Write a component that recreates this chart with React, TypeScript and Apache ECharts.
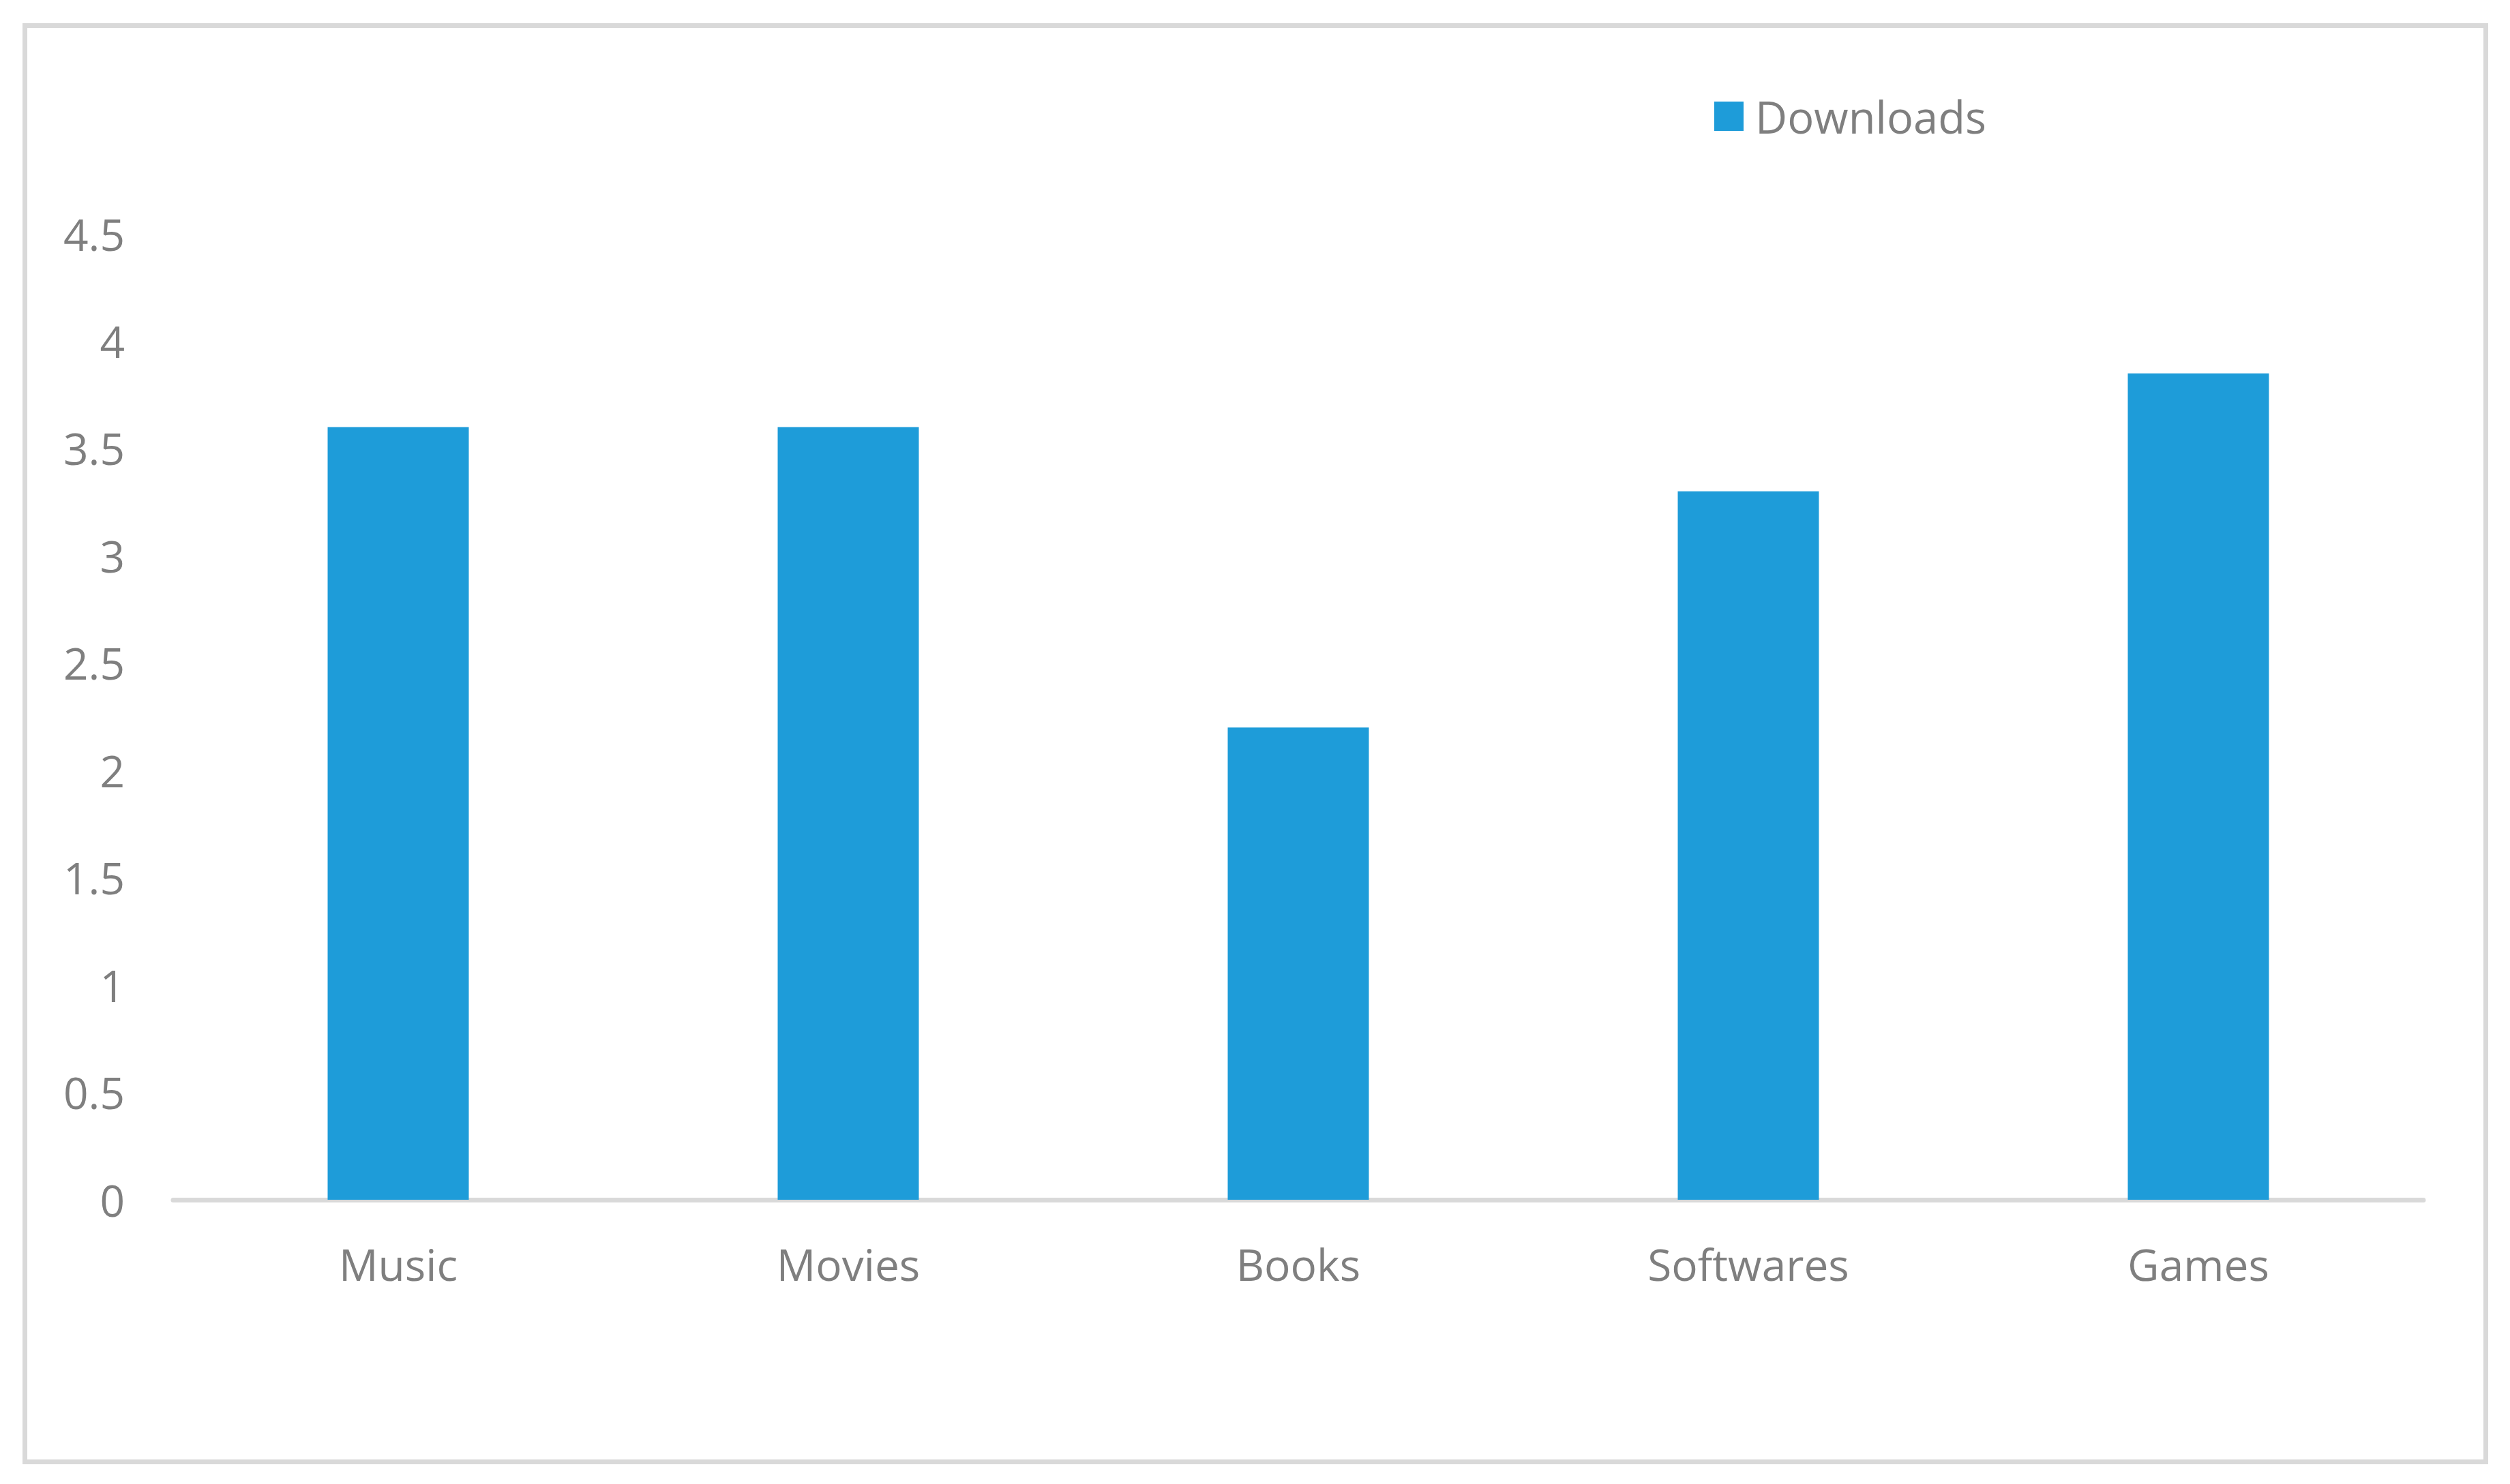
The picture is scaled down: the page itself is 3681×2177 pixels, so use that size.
import React, { useEffect, useRef } from "react";
import * as echarts from "echarts";

const categories = ["Music", "Movies", "Books", "Softwares", "Games"];
const downloads = [3.6, 3.6, 2.2, 3.3, 3.85];
const seriesName = "Downloads";

const W = 3681;
const H = 2177;
const TEXT = "#7f7f7f";
const LINE = "#d9d9d9";
const BAR = "#1e9cd9";
const FONT = "'Open Sans', 'Noto Sans', sans-serif";

export default function App() {
  const ref = useRef<HTMLDivElement>(null);
  useEffect(() => {
    if (!ref.current) return;
    const chart = echarts.init(ref.current, undefined, { renderer: "svg", width: W, height: H });
    chart.setOption({
      animation: false,
      backgroundColor: "#ffffff",
      graphic: [
        {
          type: "rect",
          shape: { x: 36.5, y: 37.5, width: 3609, height: 2107 },
          style: { fill: "none", stroke: LINE, lineWidth: 7 },
          silent: true,
        },
      ],
      legend: {
        left: 2514,
        top: 138,
        padding: 0,
        itemWidth: 43,
        itemHeight: 43,
        icon: "rect",
        data: [seriesName],
        textStyle: { color: TEXT, fontSize: 65, fontFamily: FONT, padding: [0, 0, 0, 12] },
      },
      grid: { left: 254, right: 127, top: 343, bottom: 417, containLabel: false },
      xAxis: {
        type: "category",
        data: categories,
        axisLine: { show: true, lineStyle: { color: LINE, width: 7 } },
        axisTick: { show: false },
        axisLabel: { color: TEXT, fontSize: 64, fontFamily: FONT, margin: 62, lineHeight: 64 },
        splitLine: { show: false },
      },
      yAxis: {
        type: "value",
        min: 0,
        max: 4.5,
        interval: 0.5,
        axisLine: { show: false },
        axisTick: { show: false },
        splitLine: { show: false },
        axisLabel: { color: TEXT, fontSize: 64, fontFamily: FONT, margin: 71 },
      },
      series: [
        {
          name: seriesName,
          type: "bar",
          data: downloads,
          barWidth: 207,
          itemStyle: { color: BAR },
        },
      ],
    });
    return () => chart.dispose();
  }, []);
  return (
    <div
      ref={ref}
      style={{ position: "absolute", left: 0, top: 0, width: W, height: H, background: "#fff" }}
    />
  );
}
